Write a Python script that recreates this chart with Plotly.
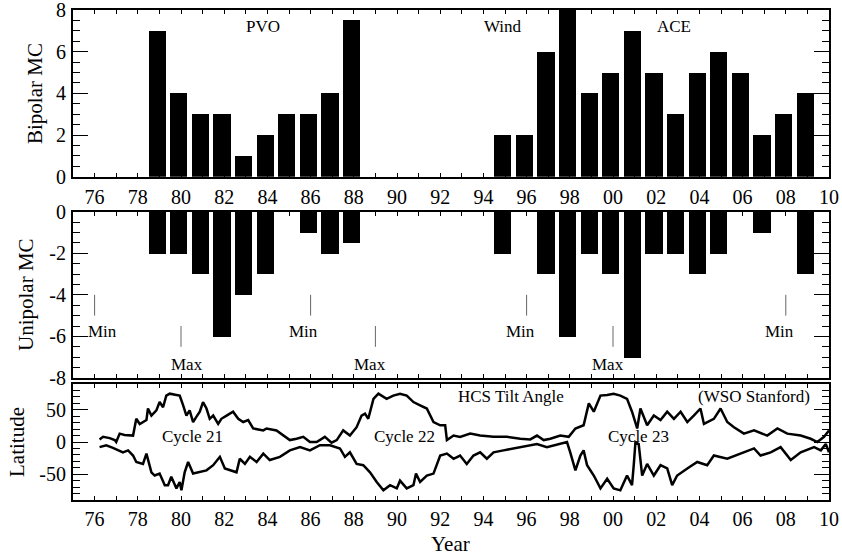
import plotly.graph_objects as go

# ---------------- data ----------------
bi_years = [1979, 1980, 1981, 1982, 1983, 1984, 1985, 1986, 1987, 1988,
            1995, 1996, 1997, 1998, 1999, 2000, 2001, 2002, 2003, 2004,
            2005, 2006, 2007, 2008, 2009]
bi_counts = [7, 4, 3, 3, 1, 2, 3, 3, 4, 7.5,
             2, 2, 6, 8, 4, 5, 7, 5, 3, 5,
             6, 5, 2, 3, 4]

uni_years = [1979, 1980, 1981, 1982, 1983, 1984, 1986, 1987, 1988,
             1995, 1997, 1998, 1999, 2000, 2001, 2002, 2003, 2004, 2005,
             2007, 2009]
uni_counts = [-2, -2, -3, -6, -4, -3, -1, -2, -1.5,
              -2, -3, -6, -2, -3, -7, -2, -2, -3, -2,
              -1, -3]

# solar cycle min / max epochs
cycle_epochs = [1976.0, 1980.0, 1986.0, 1989.0, 1996.0, 2000.0, 2008.0]
cycle_kinds = ["Min", "Max", "Min", "Max", "Min", "Max", "Min"]
cycle_label_x = [1976.35, 1980.27, 1985.67, 1988.73, 1995.73, 1999.76, 2007.73]

# HCS tilt angle (WSO), northern and southern extent
tilt_n_years = [1976.23, 1976.39, 1976.70, 1976.93, 1977.00, 1977.16, 1977.39, 1977.78, 1977.93, 1978.09,
                1978.40, 1978.47, 1978.63, 1978.86, 1979.01, 1979.17, 1979.32, 1979.48, 1979.79, 1979.94,
                1980.10, 1980.25, 1980.40, 1980.56, 1980.71, 1980.87, 1981.02, 1981.18, 1981.33, 1981.49,
                1981.72, 1981.87, 1982.11, 1982.41, 1982.65, 1982.88, 1983.11, 1983.34, 1983.81, 1983.96,
                1984.42, 1984.73, 1985.04, 1985.35, 1985.66, 1985.97, 1986.28, 1986.66, 1986.97, 1987.21,
                1987.51, 1987.82, 1988.13, 1988.36, 1988.52, 1988.67, 1988.91, 1989.14, 1989.52, 1989.83,
                1990.14, 1990.45, 1990.76, 1991.07, 1991.38, 1991.69, 1992.00, 1992.23, 1992.31, 1992.62,
                1992.92, 1993.39, 1993.85, 1994.47, 1995.09, 1995.71, 1996.17, 1996.48, 1996.79, 1997.10,
                1997.56, 1997.95, 1998.26, 1998.64, 1998.88, 1999.11, 1999.42, 1999.73, 2000.03, 2000.34,
                2000.65, 2000.88, 2001.12, 2001.27, 2001.58, 2001.89, 2002.20, 2002.51, 2002.82, 2003.13,
                2003.44, 2003.74, 2004.05, 2004.21, 2004.67, 2004.98, 2005.29, 2005.60, 2006.06, 2006.53,
                2007.14, 2007.61, 2008.07, 2008.69, 2009.15, 2009.46, 2009.77, 2010.00]
tilt_n_lat = [4, 8, 6, 3, 0, 13, 11, 10, 36, 28,
              34, 52, 41, 49, 62, 54, 72, 75, 73, 72,
              57, 41, 49, 31, 39, 47, 62, 52, 36, 41,
              28, 36, 41, 47, 36, 31, 34, 21, 18, 21,
              18, 10, 3, 5, 8, 0, 0, 8, -1, 3,
              18, 10, 23, 41, 44, 36, 67, 75, 67, 72,
              75, 72, 62, 57, 52, 31, 26, 26, 3, 10,
              8, 13, 10, 8, 8, 5, 4, 10, 3, 5,
              10, 8, 21, 26, 60, 47, 72, 73, 75, 72,
              67, 47, 21, 52, 26, 41, 34, 47, 36, 47,
              31, 41, 52, 28, 36, 52, 31, 23, 13, 18,
              10, 21, 13, 10, 5, 0, 8, 18]

tilt_s_years = [1976.23, 1976.54, 1976.85, 1977.31, 1977.55, 1977.78, 1977.93, 1978.24, 1978.40, 1978.63,
                1978.78, 1979.01, 1979.25, 1979.40, 1979.55, 1979.79, 1979.94, 1980.02, 1980.17, 1980.33,
                1980.56, 1980.87, 1981.18, 1981.49, 1981.80, 1982.03, 1982.26, 1982.57, 1982.72, 1982.96,
                1983.19, 1983.50, 1983.81, 1984.11, 1984.58, 1985.04, 1985.51, 1985.97, 1986.43, 1986.90,
                1987.36, 1987.59, 1987.82, 1988.13, 1988.44, 1988.75, 1989.06, 1989.37, 1989.68, 1989.99,
                1990.14, 1990.45, 1990.76, 1990.88, 1991.07, 1991.38, 1991.69, 1992.00, 1992.31, 1992.62,
                1992.92, 1993.23, 1993.54, 1993.85, 1994.16, 1994.47, 1994.93, 1995.40, 1996.02, 1996.48,
                1996.94, 1997.56, 1997.87, 1998.02, 1998.26, 1998.49, 1998.64, 1998.80, 1999.11, 1999.42,
                1999.73, 2000.03, 2000.34, 2000.65, 2000.88, 2000.96, 2001.04, 2001.19, 2001.35, 2001.58,
                2001.89, 2002.20, 2002.51, 2002.74, 2002.97, 2003.44, 2003.90, 2004.36, 2004.67, 2005.29,
                2005.91, 2006.53, 2006.83, 2007.30, 2007.76, 2008.23, 2008.69, 2009.31, 2009.62, 2009.85,
                2010.00]
tilt_s_lat = [-8, -5, -9, -16, -13, -21, -31, -34, -18, -47,
              -52, -49, -67, -67, -54, -72, -62, -75, -47, -31,
              -49, -47, -44, -36, -23, -41, -44, -47, -26, -34,
              -23, -31, -18, -28, -23, -13, -8, -13, -5, -5,
              -10, -23, -16, -34, -36, -47, -62, -75, -67, -72,
              -60, -72, -67, -49, -62, -52, -49, -21, -18, -26,
              -21, -34, -21, -16, -26, -16, -13, -10, -5, -3,
              -8, -3, 0, -16, -44, -21, -13, -36, -52, -72,
              -57, -72, -75, -52, -67, -36, 0, -3, -52, -34,
              -52, -36, -41, -67, -52, -41, -31, -36, -21, -26,
              -18, -10, -21, -16, -8, -28, -16, -8, -13, -3,
              -16]

year_ticks = list(range(1976, 2011, 2))
year_labels = ["%02d" % (y % 100) for y in year_ticks]

# ---------------- figure ----------------
FONT = "Liberation Serif, Times New Roman, serif"
fig = go.Figure()

fig.add_trace(go.Bar(x=bi_years, y=bi_counts, width=0.8, offset=-0.5,
                     marker=dict(color="black", line=dict(width=0)),
                     xaxis="x", yaxis="y", showlegend=False))
fig.add_trace(go.Bar(x=uni_years, y=uni_counts, width=0.8, offset=-0.5,
                     marker=dict(color="black", line=dict(width=0)),
                     xaxis="x2", yaxis="y2", showlegend=False))
fig.add_trace(go.Scatter(x=tilt_n_years, y=tilt_n_lat, mode="lines",
                         line=dict(color="black", width=2.5),
                         xaxis="x3", yaxis="y3", showlegend=False))
fig.add_trace(go.Scatter(x=tilt_s_years, y=tilt_s_lat, mode="lines",
                         line=dict(color="black", width=2.5),
                         xaxis="x3", yaxis="y3", showlegend=False))

common_x = dict(range=[1975, 2010], showline=True, linewidth=2, linecolor="black",
                mirror="ticks", ticks="inside", ticklen=4, tickwidth=1, tickcolor="black",
                tickvals=year_ticks, ticktext=year_labels, automargin=False,
                minor=dict(dtick=1, tick0=1975, ticks="inside", ticklen=4, tickwidth=1, tickcolor="black"),
                showgrid=False, zeroline=False,
                tickfont=dict(family=FONT, size=20, color="black"))
common_y = dict(showline=True, linewidth=2, linecolor="black", mirror="ticks",
                ticks="inside", ticklen=15, tickwidth=1, tickcolor="black", automargin=False,
                showgrid=False, zeroline=False, ticklabelstandoff=1, ticklabeloverflow="allow",
                tickfont=dict(family=FONT, size=20, color="black"))

fig.update_layout(
    width=842, height=555,
    margin=dict(l=73, r=13, t=10, b=55, autoexpand=False),
    paper_bgcolor="white", plot_bgcolor="white",
    bargap=0,
    xaxis=dict(common_x, domain=[0, 1], anchor="y", showticklabels=True, ticklabelstandoff=1),
    yaxis=dict(common_y, domain=[0.6598, 1.0], anchor="x", range=[0, 8],
               tickvals=[0, 2, 4, 6, 8], ticktext=["0", "2", "4", "6", "8"],
               minor=dict(dtick=0.5, tick0=0, ticks="inside", ticklen=7, tickwidth=1, tickcolor="black")),
    xaxis2=dict(common_x, domain=[0, 1], anchor="y2", showticklabels=False),
    yaxis2=dict(common_y, domain=[0.2490, 0.5884], anchor="x2", range=[-8, 0],
                tickvals=[0, -2, -4, -6, -8], ticktext=["0", "-2", "-4", "-6", "-8"],
                minor=dict(dtick=0.5, tick0=0, ticks="inside", ticklen=7, tickwidth=1, tickcolor="black")),
    xaxis3=dict(common_x, domain=[0, 1], anchor="y3", showticklabels=True, ticklabelstandoff=0),
    yaxis3=dict(common_y, domain=[0, 0.2367], anchor="x3", range=[-90, 90],
                tickvals=[-50, 0, 50], ticktext=["-50", "0", "50"],
                minor=dict(dtick=10, tick0=0, ticks="inside", ticklen=7, tickwidth=1, tickcolor="black")),
)

ann_font = dict(family=FONT, size=17, color="black")
title_font = dict(family=FONT, size=21, color="black")
annotations = []
# axis titles
for text, x, y in [("Bipolar MC", -0.0503, 0.8306), ("Unipolar MC", -0.0622, 0.4204),
                   ("Latitude", -0.0741, 0.1184)]:
    annotations.append(dict(text=text, x=x, y=y, xref="paper", yref="paper", showarrow=False,
                            textangle=-90, font=title_font, xanchor="center", yanchor="middle"))
annotations.append(dict(text="Year", x=0.4987, y=-0.0898, xref="paper", yref="paper", showarrow=False,
                        font=title_font, xanchor="center", yanchor="middle"))
# spacecraft labels
for text, x in [("PVO", 1983.79), ("Wind", 1994.93), ("ACE", 2002.84)]:
    annotations.append(dict(text=text, x=x, y=7.2, xref="x", yref="y", showarrow=False,
                            font=ann_font, xanchor="center", yanchor="middle"))
# min / max labels
for kind, lx in zip(cycle_kinds, cycle_label_x):
    ly = -5.78 if kind == "Min" else -7.36
    annotations.append(dict(text=kind, x=lx, y=ly, xref="x2", yref="y2", showarrow=False,
                            font=ann_font, xanchor="center", yanchor="middle"))
# tilt panel labels
for text, x, y in [("HCS Tilt Angle", 1995.3, 70), ("(WSO Stanford)", 2006.55, 70),
                   ("Cycle 21", 1980.53, 8), ("Cycle 22", 1990.37, 8), ("Cycle 23", 2001.19, 8)]:
    annotations.append(dict(text=text, x=x, y=y, xref="x3", yref="y3", showarrow=False,
                            font=ann_font, xanchor="center", yanchor="middle"))
fig.update_layout(annotations=annotations)

shapes = []
for kind, ex in zip(cycle_kinds, cycle_epochs):
    y0, y1 = (-4.0, -5.0) if kind == "Min" else (-5.5, -6.5)
    shapes.append(dict(type="line", x0=ex, x1=ex, y0=y0, y1=y1, xref="x2", yref="y2",
                       line=dict(color="#666666", width=1)))
fig.update_layout(shapes=shapes)

fig.write_html("out.html")
